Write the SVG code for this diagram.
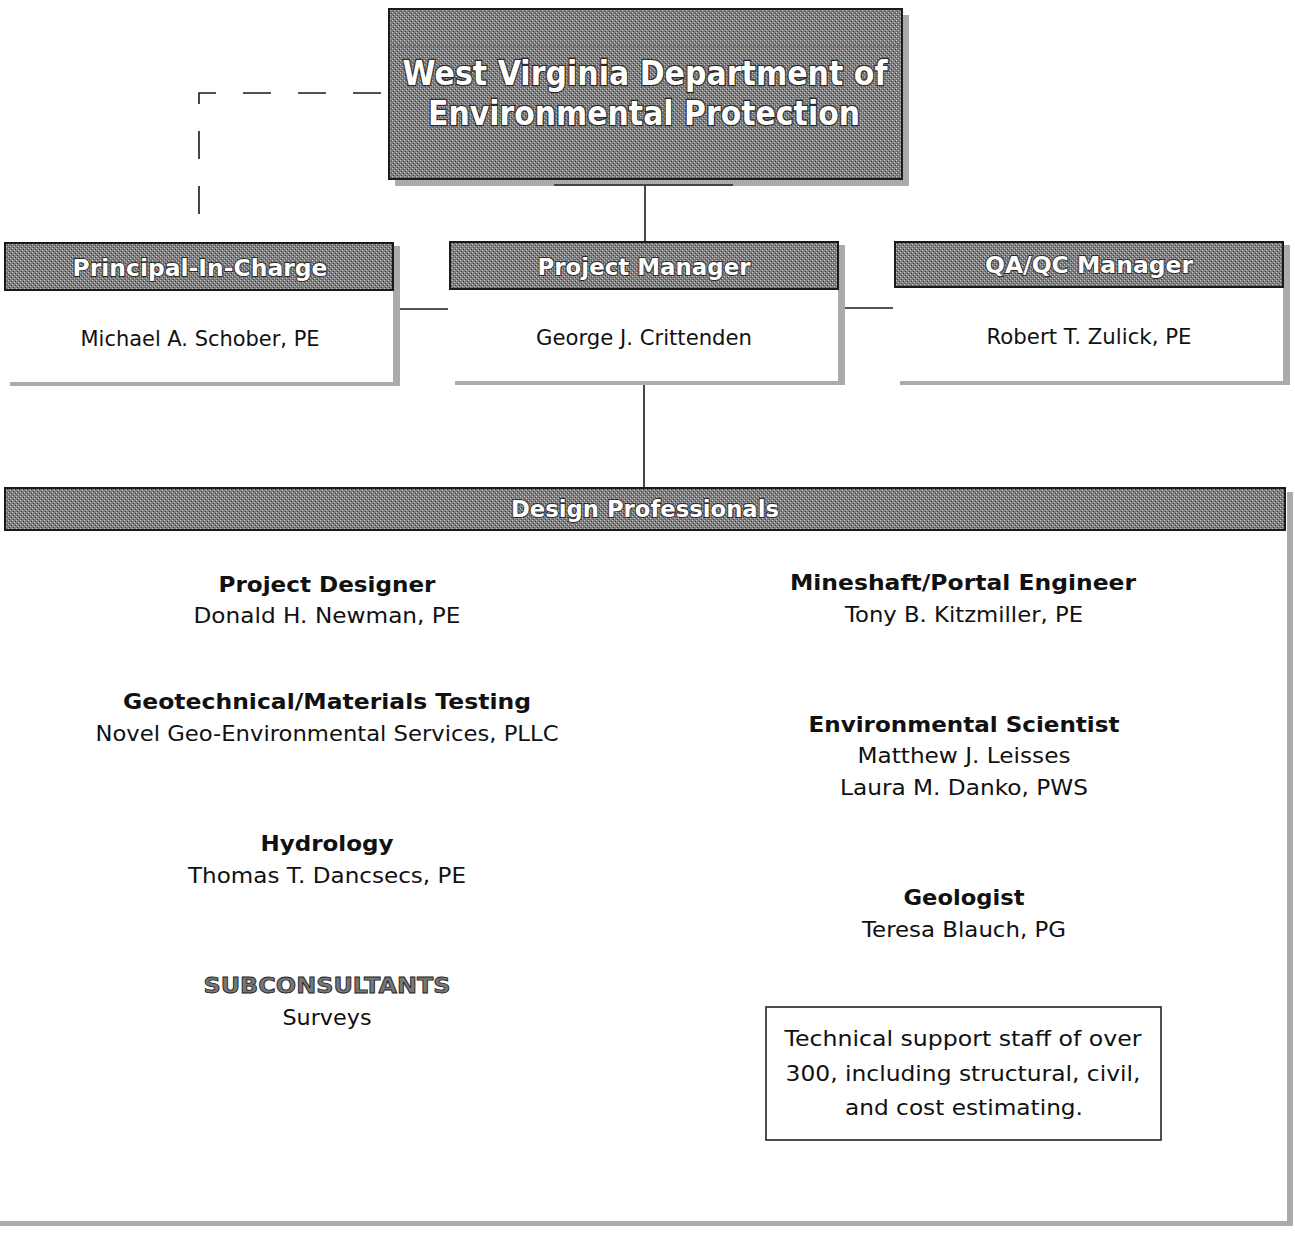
<svg xmlns="http://www.w3.org/2000/svg" width="1295" height="1236" viewBox="0 0 1295 1236">
<defs>
<pattern id="dither" width="4" height="4" patternUnits="userSpaceOnUse">
<rect width="4" height="4" fill="#7e7e7e"/>
<rect x="0" y="0" width="1" height="1" fill="#c8c8c8"/>
<rect x="2" y="2" width="1" height="1" fill="#c8c8c8"/>
<rect x="1" y="3" width="1" height="1" fill="#4a4a4a"/>
<rect x="3" y="1" width="1" height="1" fill="#4a4a4a"/>
</pattern>
</defs>
<style>
.hdr{fill:url(#dither);stroke:#1a1a1a;stroke-width:2}
.body{fill:#ffffff;stroke:none}
.shadow{fill:#ababab}
.htxt{font-family:'DejaVu Sans','Liberation Sans',sans-serif;font-weight:bold;fill:#ffffff;stroke:#2a2a2a;stroke-width:1.8;paint-order:stroke;text-anchor:middle}
.title{font-size:33px;stroke-width:2.4}
.hsz{font-size:23px}
.name{font-family:'DejaVu Sans','Liberation Sans',sans-serif;font-size:22px;fill:#111;text-anchor:middle}
.role{font-family:'DejaVu Sans','Liberation Sans',sans-serif;font-size:22px;font-weight:bold;fill:#111;text-anchor:middle}
.sub{font-family:'DejaVu Sans','Liberation Sans',sans-serif;font-size:21px;font-weight:bold;fill:#777;stroke:#222;stroke-width:0.8;text-anchor:middle}
.conn{stroke:#1a1a1a;stroke-width:1.6;fill:none}
.dash{stroke:#1a1a1a;stroke-width:1.6;fill:none;stroke-dasharray:28 27}
</style>

<g id="connectors">
<path class="dash" d="M381,93 H199 V218"/>
<line class="conn" x1="645" y1="185" x2="645" y2="242"/>
<line class="conn" x1="644" y1="382" x2="644" y2="488"/>
<line class="conn" x1="399" y1="309" x2="448" y2="309"/>
<line class="conn" x1="845" y1="308" x2="893" y2="308"/>
</g>

<g id="wvdep">
<rect class="shadow" x="395" y="15" width="514" height="171"/>
<rect class="hdr" x="389" y="9" width="513" height="170"/>
<line x1="389" y1="46" x2="902" y2="46" stroke="#555" stroke-width="0.8" stroke-dasharray="2 2"/>
<line x1="554" y1="185" x2="733" y2="185" stroke="#222" stroke-width="1.5"/>
<text class="htxt title" x="645" y="85" textLength="485" lengthAdjust="spacingAndGlyphs">West Virginia Department of</text>
<text class="htxt title" x="644" y="125" textLength="432" lengthAdjust="spacingAndGlyphs">Environmental Protection</text>
</g>

<g id="principal">
<rect class="shadow" x="10" y="246" width="390" height="140"/>
<rect class="body" x="5" y="243" width="388" height="139"/>
<rect class="hdr" x="5" y="243" width="388" height="47"/>
<text class="htxt hsz" x="200" y="276" textLength="255" lengthAdjust="spacingAndGlyphs">Principal-In-Charge</text>
<text class="name" x="200" y="346" textLength="239" lengthAdjust="spacingAndGlyphs">Michael A. Schober, PE</text>
</g>

<g id="pm">
<rect class="shadow" x="455" y="245" width="390" height="140"/>
<rect class="body" x="450" y="242" width="388" height="139"/>
<rect class="hdr" x="450" y="242" width="388" height="47"/>
<text class="htxt hsz" x="644" y="275" textLength="213" lengthAdjust="spacingAndGlyphs">Project Manager</text>
<text class="name" x="644" y="345" textLength="216" lengthAdjust="spacingAndGlyphs">George J. Crittenden</text>
</g>

<g id="qaqc">
<rect class="shadow" x="900" y="245" width="390" height="140"/>
<rect class="body" x="895" y="242" width="388" height="139"/>
<rect class="hdr" x="895" y="242" width="388" height="45"/>
<text class="htxt hsz" x="1089" y="273" textLength="208" lengthAdjust="spacingAndGlyphs">QA/QC Manager</text>
<text class="name" x="1089" y="344" textLength="205" lengthAdjust="spacingAndGlyphs">Robert T. Zulick, PE</text>
</g>

<g id="design">
<rect class="shadow" x="0" y="492" width="1293" height="734"/>
<rect class="body" x="0" y="488" width="1287" height="733"/>
<rect class="hdr" x="5" y="488" width="1280" height="42"/>
<text class="htxt hsz" x="645" y="517" textLength="268" lengthAdjust="spacingAndGlyphs">Design Professionals</text>

<text class="role" x="327" y="592" textLength="217" lengthAdjust="spacingAndGlyphs">Project Designer</text>
<text class="name" x="327" y="623" textLength="267" lengthAdjust="spacingAndGlyphs">Donald H. Newman, PE</text>
<text class="role" x="327" y="709" textLength="408" lengthAdjust="spacingAndGlyphs">Geotechnical/Materials Testing</text>
<text class="name" x="327" y="741" textLength="463" lengthAdjust="spacingAndGlyphs">Novel Geo-Environmental Services, PLLC</text>
<text class="role" x="327" y="851" textLength="133" lengthAdjust="spacingAndGlyphs">Hydrology</text>
<text class="name" x="327" y="883" textLength="278" lengthAdjust="spacingAndGlyphs">Thomas T. Dancsecs, PE</text>
<text class="sub" x="327" y="993" textLength="247" lengthAdjust="spacingAndGlyphs">SUBCONSULTANTS</text>
<text class="name" x="327" y="1025" textLength="89" lengthAdjust="spacingAndGlyphs">Surveys</text>

<text class="role" x="963" y="590" textLength="346" lengthAdjust="spacingAndGlyphs">Mineshaft/Portal Engineer</text>
<text class="name" x="964" y="622" textLength="238" lengthAdjust="spacingAndGlyphs">Tony B. Kitzmiller, PE</text>
<text class="role" x="964" y="732" textLength="311" lengthAdjust="spacingAndGlyphs">Environmental Scientist</text>
<text class="name" x="964" y="763" textLength="213" lengthAdjust="spacingAndGlyphs">Matthew J. Leisses</text>
<text class="name" x="964" y="795" textLength="248" lengthAdjust="spacingAndGlyphs">Laura M. Danko, PWS</text>
<text class="role" x="964" y="905" textLength="121" lengthAdjust="spacingAndGlyphs">Geologist</text>
<text class="name" x="964" y="937" textLength="204" lengthAdjust="spacingAndGlyphs">Teresa Blauch, PG</text>
</g>

<g id="techsupport">
<rect x="766" y="1007" width="395" height="133" fill="#fff" stroke="#222" stroke-width="1.6"/>
<text class="name" x="963" y="1046" textLength="357" lengthAdjust="spacingAndGlyphs">Technical support staff of over</text>
<text class="name" x="963" y="1081" textLength="355" lengthAdjust="spacingAndGlyphs">300, including structural, civil,</text>
<text class="name" x="964" y="1115" textLength="238" lengthAdjust="spacingAndGlyphs">and cost estimating.</text>
</g>
</svg>
